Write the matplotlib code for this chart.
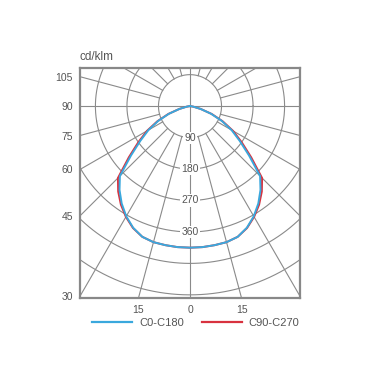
import numpy as np
import matplotlib
matplotlib.use("Agg")
import matplotlib.pyplot as plt
from matplotlib.lines import Line2D

plt.rcParams['font.family'] = ['Liberation Sans', 'DejaVu Sans']

# ---- data -------------------------------------------------------------
angles = [0, 5, 10, 15, 20, 25, 30, 35, 40, 45, 50, 55, 60, 65, 70, 75, 80, 85, 90]
c0_c180 = [405, 405, 404, 403, 398, 384, 364, 340, 313, 283, 220, 173, 137, 100, 64, 31, 10, 2, 0]
c90_c270 = [405, 405, 404, 403, 398, 385, 366, 344, 319, 291, 228, 180, 142, 103, 66, 32, 10, 2, 0]
series_names = ["C0-C180", "C90-C270"]
series_colors = ["#3aa8dd", "#d8323f"]
ring_values = [90, 180, 270, 360]
left_tick_angles = [105, 90, 75, 60, 45, 30]
bottom_tick_angles = [-15, 0, 15]
bottom_tick_labels = ["15", "0", "15"]
unit_label = "cd/klm"

# ---- figure -----------------------------------------------------------
fig = plt.figure(figsize=(3.8, 3.8), dpi=100)
ax = fig.add_axes([80 / 380, 1 - 298 / 380, 220 / 380, 230 / 380])
XMAX = 314.0
YMIN, YMAX = -549.0, 109.0
ax.set_xlim(-XMAX, XMAX)
ax.set_ylim(YMIN, YMAX)

grid_c = "#8a8a8a"
txt_c = "#555555"
# circles
t = np.linspace(0, 2 * np.pi, 400)
for r in range(90, 900, 90):
    ax.plot(r * np.cos(t), r * np.sin(t), color=grid_c, lw=0.8, zorder=1)
# radial lines every 15 deg (from nadir)
R = 1200
for a in range(0, 360, 15):
    ar = np.deg2rad(a)
    r0 = 0 if a % 90 == 0 else 90
    ax.plot([r0 * np.sin(ar), R * np.sin(ar)], [-r0 * np.cos(ar), -R * np.cos(ar)],
            color=grid_c, lw=0.8, zorder=1)

# curves (mirrored on both sides of nadir)
ang = np.array(angles, dtype=float)
full_ang = np.concatenate([-ang[::-1], ang[1:]])
th = np.deg2rad(full_ang)
for vals, col, z in [(c90_c270, series_colors[1], 2), (c0_c180, series_colors[0], 3)]:
    v = np.array(vals, dtype=float)
    full_v = np.concatenate([v[::-1], v[1:]])
    ax.plot(full_v * np.sin(th), -full_v * np.cos(th), color=col, lw=1.4, zorder=z)

# ring labels
for r in ring_values:
    ax.text(0, -r, str(r), ha="center", va="center", fontsize=7.5, color=txt_c,
            bbox=dict(boxstyle="square,pad=0.1", fc="white", ec="none"), zorder=4)

# ticks where the radial lines meet the frame
yt = [-XMAX / np.tan(np.deg2rad(a)) if a != 90 else 0.0 for a in left_tick_angles]
ax.set_yticks(yt)
ax.set_yticklabels([str(a) for a in left_tick_angles])
xt = [YMIN * np.tan(np.deg2rad(-a)) * -1 * -1 for a in bottom_tick_angles]
xt = [YMIN * -np.tan(np.deg2rad(a)) * -1 for a in bottom_tick_angles]
ax.set_xticks(xt)
ax.set_xticklabels(bottom_tick_labels)
ax.tick_params(length=0, labelsize=7.5, colors=txt_c, pad=5)
for s in ax.spines.values():
    s.set_color("#888888")
    s.set_linewidth(1.6)

fig.text(79 / 380, 1 - 57 / 380, unit_label, fontsize=8.5, color=txt_c,
         ha="left", va="center")

handles = [Line2D([], [], color=c, lw=1.6) for c in series_colors]
fig.legend(handles, series_names, loc="center", bbox_to_anchor=(0.515, 1 - 323 / 380),
           ncol=2, frameon=False, fontsize=8, handlelength=3.6, columnspacing=1.6,
           handletextpad=0.6, labelcolor=txt_c)

fig.savefig("out.png", dpi=100, facecolor="white")
